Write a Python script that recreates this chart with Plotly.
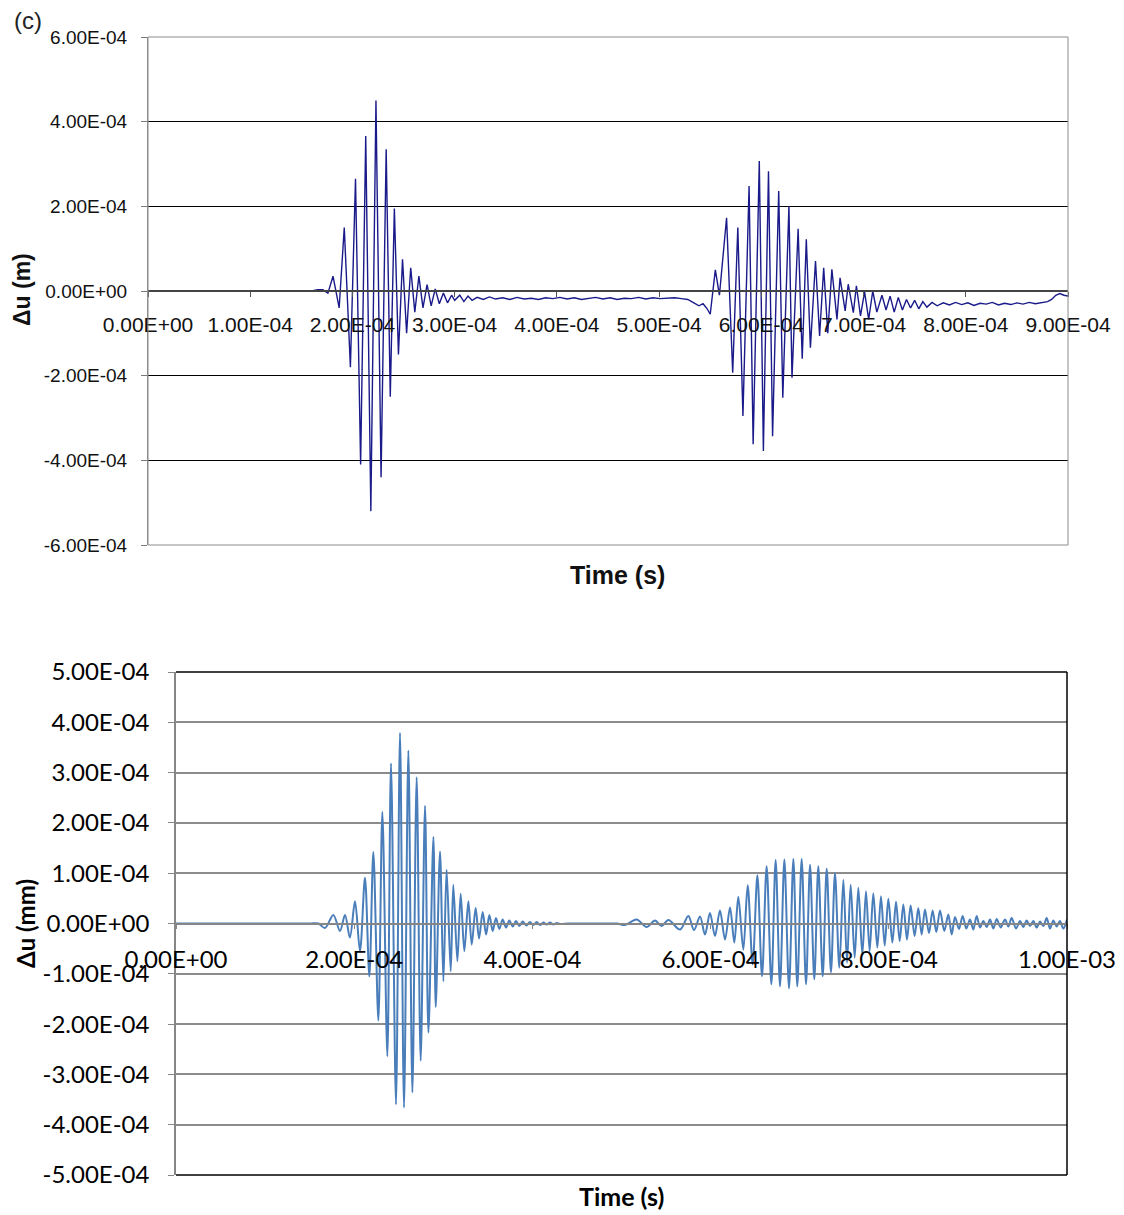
import numpy as np
import plotly.graph_objects as go

# ---------------- DATA ----------------
# Top panel: time in microseconds, displacement in units of 1e-4 m
top_t_us = [0, 160, 166, 171, 176, 181, 187, 192, 198, 203, 208, 213, 218, 223, 228,
            233, 237, 241, 245, 249, 253, 257, 261, 265, 269, 273, 277, 281, 285, 289,
            293, 297, 300, 305, 309, 313, 317, 322, 328, 334, 340, 347, 354, 361, 368,
            375, 382, 389, 396, 403, 410, 417, 424, 431, 438, 445, 452, 459, 466, 473,
            480, 487, 494, 501, 508, 515, 522, 528, 534, 539, 543, 547, 550, 555, 559,
            566, 572, 577, 582, 588, 592, 598, 602, 607, 611, 617, 621, 627, 630, 636,
            640, 644, 648, 653, 657, 661, 665, 669, 674, 677, 682, 685, 690, 693, 697,
            701, 705, 709, 713, 718, 722, 726, 730, 734, 738, 742, 746, 750, 754, 758,
            762, 767, 772, 778, 784, 790, 796, 802, 808, 814, 820, 826, 832, 838, 844,
            850, 856, 862, 868, 874, 880, 884, 888, 892, 896, 900]
top_v = [0, 0, 0.03, 0.03, -0.05, 0.35, -0.4, 1.5, -1.8, 2.65, -4.1, 3.66, -5.2, 4.5, -4.4,
         3.35, -2.5, 1.95, -1.5, 0.75, -1.0, 0.55, -0.5, 0.35, -0.4, 0.15, -0.35, 0.05, -0.3, -0.05,
         -0.28, -0.1, -0.22, -0.1, -0.25, -0.12, -0.22, -0.15, -0.2, -0.14, -0.19, -0.16, -0.2, -0.15, -0.19,
         -0.17, -0.2, -0.16, -0.18, -0.15, -0.19, -0.16, -0.2, -0.17, -0.15, -0.19, -0.16, -0.2, -0.17, -0.18,
         -0.15, -0.19, -0.16, -0.18, -0.17, -0.16, -0.18, -0.2, -0.28, -0.35, -0.3, -0.42, -0.55, 0.5, -0.1,
         1.73, -1.93, 1.5, -2.95, 2.48, -3.62, 3.07, -3.78, 2.83, -3.43, 2.36, -2.52, 2.0, -2.05, 1.47,
         -1.6, 1.22, -1.34, 0.71, -1.06, 0.55, -1.0, 0.51, -0.67, 0.31, -0.47, 0.16, -0.51, 0.12, -0.59,
         -0.02, -0.67, 0.0, -0.5, -0.1, -0.45, -0.12, -0.5, -0.15, -0.45, -0.2, -0.4, -0.22, -0.42, -0.25,
         -0.38, -0.27, -0.35, -0.28, -0.33, -0.27, -0.32, -0.28, -0.34, -0.29, -0.31, -0.27, -0.33, -0.29, -0.32,
         -0.28, -0.31, -0.27, -0.3, -0.28, -0.25, -0.2, -0.1, -0.06, -0.1, -0.12]

# Bottom panel: time in microseconds, displacement in units of 1e-4 mm
bot_t_us = [0, 60, 120, 150, 160, 167.2, 176.6, 184.0, 189.7, 195.2, 200.9, 206.5, 212.1, 217.0, 221.5,
            227.1, 231.6, 237.2, 241.3, 246.9, 251.4, 255.9, 260.8, 265.3, 270.1, 274.6,
            279.5, 283.3, 288.9, 291.5, 296.3, 300.1, 303.7, 308.3, 311.2, 315.8, 319.5,
            323.6, 328.1, 331.9, 336.3, 340.1, 344.2, 348.0, 351.7, 355.4, 359.1, 362.9,
            366.6, 370.4, 374.1, 377.9, 381.6, 385.4, 389.1, 393.2, 397.3, 401.0, 404.8,
            408.6, 412.3, 416.0, 419.8, 423.5, 427.3, 431.0, 440, 455, 470, 485, 495, 503.9, 517.0, 528.2,
            537.6, 545.1, 552.6, 565.7, 575.0, 581.4, 588.1, 593.7, 599.3, 604.9, 610.5,
            616.2, 621.8, 626.6, 631.1, 636.7, 641.6, 647.2, 652.5, 657.7, 662.9, 668.2,
            673.0, 677.9, 682.8, 688.0, 692.9, 697.3, 702.2, 707.1, 711.6, 716.4, 720.9,
            725.8, 730.3, 735.1, 739.6, 744.5, 749.0, 753.1, 757.2, 761.7, 765.8, 770.3,
            774.4, 778.5, 782.6, 787.1, 791.2, 795.4, 799.5, 804.0, 808.1, 812.2, 816.3,
            820.4, 824.5, 829.0, 833.1, 836.9, 840.6, 845.1, 849.2, 853.3, 857.5, 862.3,
            866.8, 870.6, 874.3, 878.8, 882.9, 887.0, 891.1, 894.9, 898.6, 902.4, 906.1,
            909.8, 913.6, 917.3, 921.1, 925.6, 930.4, 934.2, 937.9, 942.8, 947.3, 951.0,
            954.7, 958.5, 962.2, 966.0, 969.7, 973.4, 977.2, 980.9, 984.7, 988.4, 992.1,
            995.9, 1000]
bot_v = [0, 0, 0, 0, 0, -0.09, 0.17, -0.15, 0.17, -0.28, 0.44, -0.55, 0.91, -1.05, 1.42,
         -1.93, 2.22, -2.64, 3.18, -3.6, 3.79, -3.66, 3.44, -3.36, 2.91, -2.73,
         2.34, -2.17, 1.72, -1.66, 1.43, -1.15, 1.07, -0.95, 0.77, -0.75, 0.59,
         -0.55, 0.44, -0.42, 0.31, -0.3, 0.23, -0.22, 0.17, -0.15, 0.11, -0.11,
         0.08, -0.08, 0.06, -0.06, 0.05, -0.05, 0.04, -0.04, 0.03, -0.03, 0.03,
         -0.03, 0.02, -0.02, 0.02, -0.02, 0.01, -0.01, 0, 0, 0, 0, 0, -0.03, 0.08, -0.07,
         0.06, -0.05, 0.07, -0.12, 0.15, -0.13, 0.14, -0.22, 0.21, -0.25, 0.26,
         -0.32, 0.32, -0.38, 0.53, -0.52, 0.76, -0.81, 0.96, -1.05, 1.14, -1.21,
         1.26, -1.25, 1.27, -1.29, 1.28, -1.25, 1.28, -1.21, 1.17, -1.11, 1.14,
         -1.05, 1.09, -0.97, 1.0, -0.88, 0.87, -0.78, 0.77, -0.68, 0.71, -0.62,
         0.64, -0.55, 0.6, -0.48, 0.54, -0.44, 0.49, -0.38, 0.43, -0.35, 0.38,
         -0.32, 0.36, -0.25, 0.31, -0.22, 0.28, -0.19, 0.26, -0.17, 0.26, -0.15,
         0.18, -0.22, 0.13, -0.11, 0.15, -0.1, 0.08, -0.12, 0.15, -0.08, 0.05,
         -0.07, 0.08, -0.1, 0.09, -0.08, 0.08, -0.06, 0.11, -0.1, 0.05, -0.07,
         0.06, -0.05, 0.05, -0.08, 0.04, -0.05, 0.11, -0.1, 0.06, -0.06, 0.05,
         -0.1, 0.08]

top_xtick_vals = [0, 1e-4, 2e-4, 3e-4, 4e-4, 5e-4, 6e-4, 7e-4, 8e-4, 9e-4]
top_xtick_text = ["0.00E+00", "1.00E-04", "2.00E-04", "3.00E-04", "4.00E-04",
                  "5.00E-04", "6.00E-04", "7.00E-04", "8.00E-04", "9.00E-04"]
top_ytick_vals = [-6e-4, -4e-4, -2e-4, 0, 2e-4, 4e-4, 6e-4]
top_ytick_text = ["-6.00E-04", "-4.00E-04", "-2.00E-04", "0.00E+00",
                  "2.00E-04", "4.00E-04", "6.00E-04"]
bot_xtick_vals = [0, 2e-4, 4e-4, 6e-4, 8e-4, 1e-3]
bot_xtick_text = ["0.00E+00", "2.00E-04", "4.00E-04", "6.00E-04", "8.00E-04", "1.00E-03"]
bot_ytick_vals = [-5e-4, -4e-4, -3e-4, -2e-4, -1e-4, 0, 1e-4, 2e-4, 3e-4, 4e-4, 5e-4]
bot_ytick_text = ["-5.00E-04", "-4.00E-04", "-3.00E-04", "-2.00E-04", "-1.00E-04",
                  "0.00E+00", "1.00E-04", "2.00E-04", "3.00E-04", "4.00E-04", "5.00E-04"]

# ---------------- FIGURE ----------------
W, H = 1124, 1215
def px(x): return x / W
def py(y): return 1 - y / H

top_dom_x = [px(148), px(1068)]
top_dom_y = [py(545), py(37)]
bot_dom_x = [px(176), px(1067)]
bot_dom_y = [py(1175), py(672)]

fig = go.Figure()
fig.add_trace(go.Scatter(x=np.array(top_t_us) * 1e-6, y=np.array(top_v) * 1e-4,
                         mode="lines", line=dict(color="#1a1a8a", width=1.4),
                         xaxis="x", yaxis="y", showlegend=False))
fig.add_trace(go.Scatter(x=np.array(bot_t_us) * 1e-6, y=np.array(bot_v) * 1e-4,
                         mode="lines", line=dict(color="#4a7ebb", width=2, shape="spline",
                                                 smoothing=0.9),
                         xaxis="x2", yaxis="y2", showlegend=False))

arial = "Liberation Sans, Arial, sans-serif"
calib = "Lato, Carlito, Calibri, sans-serif"

fig.update_layout(
    width=W, height=H, autosize=False, margin=dict(l=0, r=0, t=0, b=0, pad=0, autoexpand=False),
    paper_bgcolor="white", plot_bgcolor="white",
    xaxis=dict(domain=top_dom_x, range=[0, 9e-4], anchor="free",
               position=(top_dom_y[0] + top_dom_y[1]) / 2, automargin=False,
               tickvals=top_xtick_vals, ticktext=top_xtick_text,
               ticks="outside", ticklen=5, tickcolor="#555555",
               showline=True, linecolor="#444444", linewidth=1.5,
               showgrid=False, zeroline=False, ticklabelstandoff=10,
               tickfont=dict(family=arial, size=21, color="#111111")),
    yaxis=dict(domain=top_dom_y, range=[-6e-4, 6e-4], anchor="x", automargin=False,
               tickvals=top_ytick_vals, ticktext=top_ytick_text,
               ticks="outside", ticklen=6, tickcolor="#777777",
               showline=True, linecolor="#8c8c8c", linewidth=1,
               showgrid=True, gridcolor="#000000", gridwidth=1,
               zeroline=False, ticklabelstandoff=10,
               tickfont=dict(family=arial, size=19, color="#111111")),
    xaxis2=dict(domain=bot_dom_x, range=[0, 1e-3], anchor="free",
                position=(bot_dom_y[0] + bot_dom_y[1]) / 2, automargin=False,
                tickvals=bot_xtick_vals, ticktext=bot_xtick_text,
                ticks="outside", ticklen=5, tickcolor="#868686",
                showline=True, linecolor="#868686", linewidth=1.5,
                showgrid=False, zeroline=False, ticklabelstandoff=10,
                tickfont=dict(family=calib, size=24, color="#000000")),
    yaxis2=dict(domain=bot_dom_y, range=[-5e-4, 5e-4], anchor="x2", automargin=False,
                tickvals=bot_ytick_vals, ticktext=bot_ytick_text,
                ticks="outside", ticklen=6, tickcolor="#868686",
                showline=True, linecolor="#868686", linewidth=1.5,
                showgrid=True, gridcolor="#8c8c8c", gridwidth=1.5,
                zeroline=False, ticklabelstandoff=14,
                tickfont=dict(family=calib, size=24, color="#000000")),
)

# frames
fig.add_shape(type="rect", xref="x domain", yref="y domain", x0=0, x1=1, y0=0, y1=1,
              line=dict(color="#8c8c8c", width=1), layer="above")
for (x0, y0, x1, y1) in [(0, 1, 1, 1), (1, 0, 1, 1), (0, 0, 1, 0)]:
    fig.add_shape(type="line", xref="x2 domain", yref="y2 domain", x0=x0, y0=y0, x1=x1, y1=y1,
                  line=dict(color="#000000", width=1.5), layer="above")

# texts
ann = [
    dict(text="(c)", x=px(28), y=py(20), font=dict(family=arial, size=24, color="#222")),
    dict(text="<b>Δu (m)</b>", x=px(22), y=py(290), textangle=-90,
         font=dict(family=arial, size=23, color="#111")),
    dict(text="<b>Time (s)</b>", x=px(617), y=py(575),
         font=dict(family=arial, size=25, color="#111")),
    dict(text="<b>Δu (mm)</b>", x=px(25), y=py(924), textangle=-90,
         font=dict(family=calib, size=24, color="#000")),
    dict(text="<b>Time (s)</b>", x=px(621), y=py(1196),
         font=dict(family=calib, size=25, color="#000")),
]
for a in ann:
    fig.add_annotation(xref="paper", yref="paper", showarrow=False,
                       xanchor="center", yanchor="middle", **a)

fig.write_html("out.html", config={"displayModeBar": False},
               post_script="document.body.style.margin='0px';document.body.style.padding='0px';")
